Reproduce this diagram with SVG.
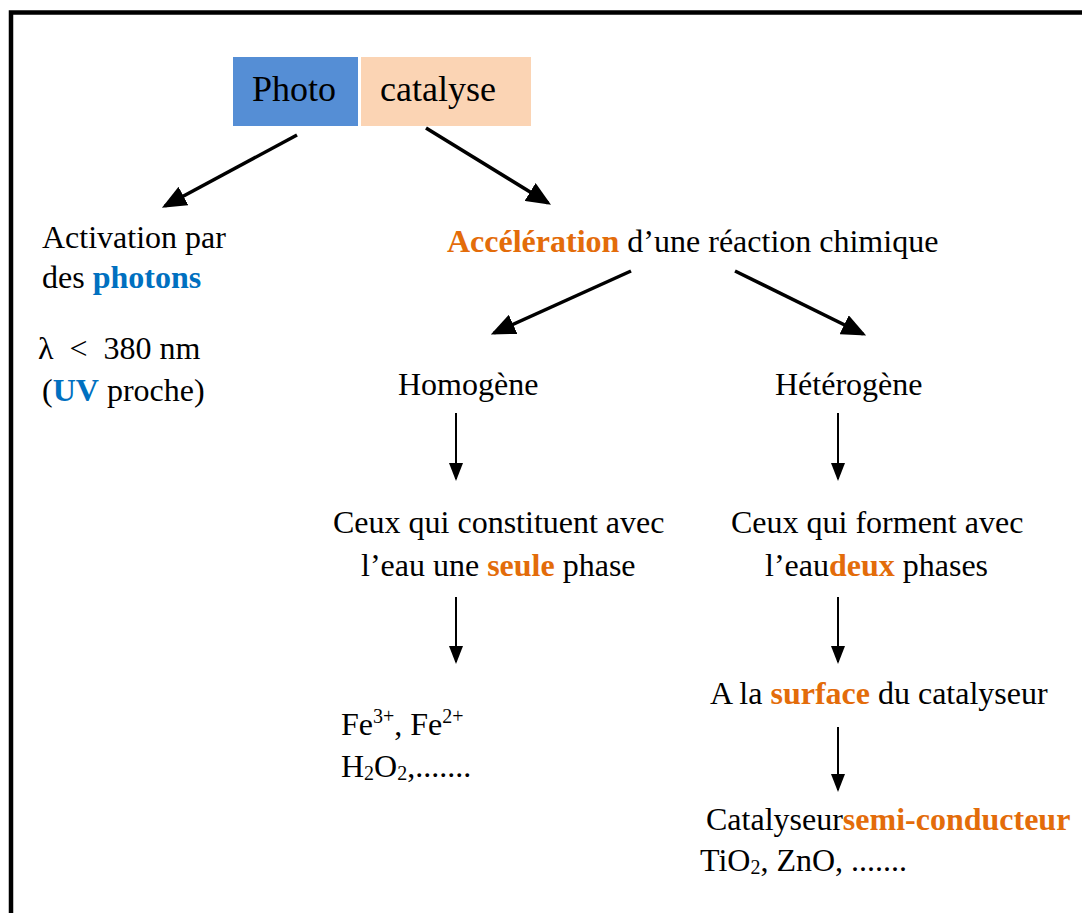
<svg xmlns="http://www.w3.org/2000/svg" width="1082" height="913" viewBox="0 0 1082 913">
<defs>
<style>
text{font-family:"Liberation Serif","Times New Roman",serif;font-size:32px;fill:#000}
.b{font-weight:bold}
.or{fill:#E36C0A;font-weight:bold}
.bl{fill:#0070C0;font-weight:bold}
.diag{stroke:#000;stroke-width:3.5;fill:none}
.vert{stroke:#000;stroke-width:2;fill:none}
</style>
<marker id="ah" markerWidth="7" markerHeight="6" refX="6" refY="3" orient="auto" markerUnits="strokeWidth">
<path d="M0,0 L7,3 L0,6 Z" fill="#000"/>
</marker>
<marker id="av" markerWidth="9" markerHeight="7" refX="8" refY="3.5" orient="auto" markerUnits="strokeWidth">
<path d="M0,0 L9,3.5 L0,7 Z" fill="#000"/>
</marker>
</defs>
<rect x="0" y="0" width="1082" height="913" fill="#fff"/>
<rect x="11" y="12.5" width="1100" height="1000" fill="none" stroke="#000" stroke-width="4.5"/>

<g id="title">
<rect x="233" y="57" width="125" height="69" fill="#558ED5"/>
<rect x="361" y="57" width="170" height="69" fill="#FBD4B4"/>
<text x="252" y="101" style="font-size:36px">Photo</text>
<text x="380" y="101" style="font-size:36px">catalyse</text>
</g>

<g id="connectors">
<line class="diag" x1="297" y1="135" x2="165" y2="206" marker-end="url(#ah)"/>
<line class="diag" x1="426" y1="128" x2="548" y2="203" marker-end="url(#ah)"/>
<line class="diag" x1="631" y1="271" x2="494" y2="333" marker-end="url(#ah)"/>
<line class="diag" x1="735" y1="271" x2="863" y2="334" marker-end="url(#ah)"/>
<line class="vert" x1="456" y1="413" x2="456" y2="479" marker-end="url(#av)"/>
<line class="vert" x1="456" y1="597" x2="456" y2="662" marker-end="url(#av)"/>
<line class="vert" x1="838" y1="413" x2="838" y2="479" marker-end="url(#av)"/>
<line class="vert" x1="838" y1="597" x2="838" y2="662" marker-end="url(#av)"/>
<line class="vert" x1="838" y1="727" x2="838" y2="790" marker-end="url(#av)"/>
</g>

<g id="activation">
<text x="42" y="248">Activation par</text>
<text x="42" y="288">des <tspan class="bl">photons</tspan></text>
<text x="38" y="359">λ &#160;&lt; &#160;380 nm</text>
<text x="42" y="401">(<tspan class="bl">UV</tspan> proche)</text>
</g>

<g id="acceleration">
<text x="447" y="252"><tspan class="or">Accélération</tspan> d’une réaction chimique</text>
</g>

<g id="homogene">
<text x="398" y="395">Homogène</text>
</g>

<g id="heterogene">
<text x="775" y="395">Hétérogène</text>
</g>

<g id="seule-phase">
<text x="333" y="533">Ceux qui constituent avec</text>
<text x="361" y="576">l’eau une <tspan class="or">seule</tspan> phase</text>
</g>

<g id="deux-phases">
<text x="731" y="533">Ceux qui forment avec</text>
<text x="765" y="576">l’eau<tspan class="or">deux</tspan> phases</text>
</g>

<g id="fer">
<text x="341" y="735">Fe<tspan dy="-12" style="font-size:20px">3+</tspan><tspan dy="12">, Fe</tspan><tspan dy="-12" style="font-size:20px">2+</tspan></text>
<text x="341" y="777">H<tspan dy="3" style="font-size:20px">2</tspan><tspan dy="-3">O</tspan><tspan dy="3" style="font-size:20px">2</tspan><tspan dy="-3">,.......</tspan></text>
</g>

<g id="surface">
<text x="710" y="704">A la <tspan class="or">surface</tspan> du catalyseur</text>
</g>

<g id="semiconducteur">
<text x="706" y="830">Catalyseur<tspan class="or">semi-conducteur</tspan></text>
<text x="700" y="871">TiO<tspan dy="3" style="font-size:20px">2</tspan><tspan dy="-3">, ZnO, .......</tspan></text>
</g>
</svg>
